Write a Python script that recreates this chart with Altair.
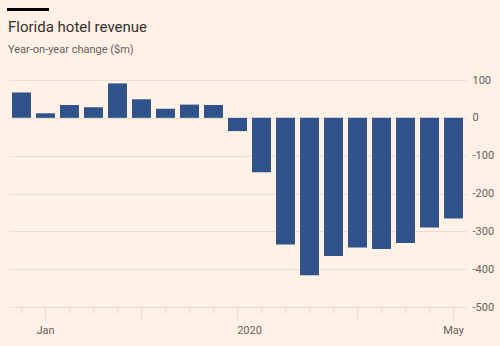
import altair as alt
import pandas as pd

weeks = ["2019-12-29", "2020-01-05", "2020-01-12", "2020-01-19", "2020-01-26",
         "2020-02-02", "2020-02-09", "2020-02-16", "2020-02-23", "2020-03-01",
         "2020-03-08", "2020-03-15", "2020-03-22", "2020-03-29", "2020-04-05",
         "2020-04-12", "2020-04-19", "2020-04-26", "2020-05-03"]
values = [67, 12, 34, 28, 91, 49, 24, 35, 34, -35,
          -144, -335, -416, -365, -343, -347, -331, -290, -266]
month_starts = ["2020-01-05", "2020-02-02", "2020-03-01", "2020-04-05", "2020-05-03"]
label_weeks = ["2020-01-05", "2020-05-03"]
label_texts = ["Jan", "May"]
year_week = ["2020-03-01"]
year_text = ["2020"]
y_ticks = [100, 0, -100, -200, -300, -400, -500]
title_text = "Florida hotel revenue"
subtitle_text = "Year-on-year change ($m)"

BG = "#FFF1E5"
GRID = "#E9DCD2"
TXT = "#66605C"
FONT = "Roboto"
W, H = 457, 227

df = pd.DataFrame({"week": weeks, "value": values})
ticks_df = pd.DataFrame({"week": month_starts})
labels_df = pd.DataFrame({"week": label_weeks, "text": label_texts})
year_df = pd.DataFrame({"week": year_week, "text": year_text})
title_df = pd.DataFrame({"text": [title_text]})
subtitle_df = pd.DataFrame({"text": [subtitle_text]})

xscale = alt.Scale(domain=weeks, paddingInner=0.21, paddingOuter=0.125)
yscale = alt.Scale(domain=[-500, 100], nice=False)

bars = alt.Chart(df).mark_bar(color="#2E5289").encode(
    x=alt.X("week:O", scale=xscale,
            axis=alt.Axis(title=None, labels=False, domain=False, ticks=True,
                          tickSize=7, tickColor=GRID, tickWidth=1, grid=False,
                          offset=0)),
    y=alt.Y("value:Q", scale=yscale,
            axis=alt.Axis(title=None, orient="right", values=y_ticks, grid=True,
                          gridColor=GRID, domain=False, ticks=False,
                          labelPadding=6, labelColor=TXT, labelFont=FONT,
                          labelFontSize=11, labelAlign="left",
                          labelExpr="datum.value + ''")),
)

big_ticks = alt.Chart(ticks_df).mark_rule(color=GRID, strokeWidth=1).encode(
    x=alt.X("week:O", scale=xscale),
    y=alt.value(H),
    y2=alt.value(H + 14),
)

labels = alt.Chart(labels_df).mark_text(
    font=FONT, fontSize=11, color=TXT, baseline="middle"
).encode(
    x=alt.X("week:O", scale=xscale),
    y=alt.value(H + 24),
    text="text:N",
)

year_label = alt.Chart(year_df).mark_text(
    font=FONT, fontSize=11, color=TXT, baseline="middle", dx=12
).encode(
    x=alt.X("week:O", scale=xscale),
    y=alt.value(H + 24),
    text="text:N",
)

brand = alt.Chart(title_df).mark_rule(color="#000000", strokeWidth=3).encode(
    x=alt.value(-2), x2=alt.value(40), y=alt.value(-70.5)
)

title = alt.Chart(title_df).mark_text(
    font=FONT, fontSize=15, color="#33302E", align="left", baseline="alphabetic"
).encode(
    x=alt.value(-1), y=alt.value(-48), text="text:N"
)

subtitle = alt.Chart(subtitle_df).mark_text(
    font=FONT, fontSize=11, color=TXT, align="left", baseline="alphabetic"
).encode(
    x=alt.value(-1), y=alt.value(-27), text="text:N"
)

chart = alt.layer(bars, big_ticks, labels, year_label, brand, title, subtitle).properties(
    width=W, height=H,
    autosize=alt.AutoSizeParams(type="none"),
    padding={"left": 9, "top": 80, "right": 34, "bottom": 39},
    background=BG,
).configure_view(stroke=None)

chart.save("out.html", embed_options={"renderer": "svg", "actions": False})
